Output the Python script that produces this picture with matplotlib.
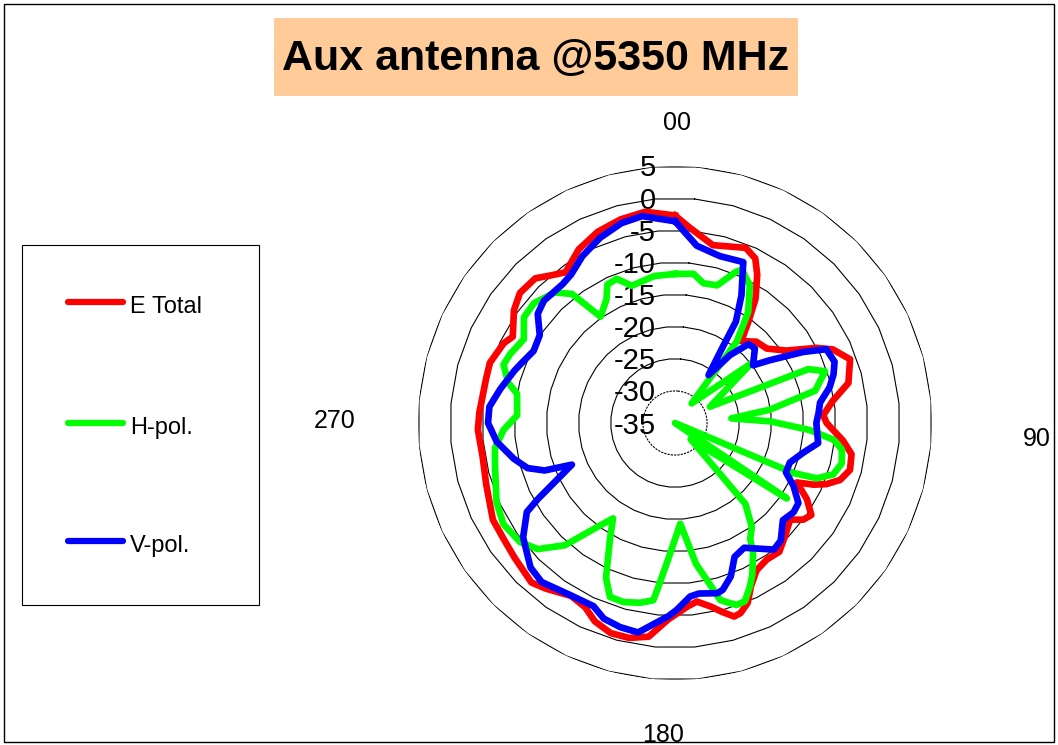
import numpy as np
import matplotlib.pyplot as plt
from matplotlib.patches import Rectangle
from matplotlib.lines import Line2D
from matplotlib.transforms import offset_copy

plt.rcParams['font.family'] = ['Liberation Sans', 'DejaVu Sans']

W, H = 1058, 745

# --- data (angle in degrees clockwise from top, level in dB) ---
ring_levels = [5, 0, -5, -10, -15, -20, -25, -30, -35]
series_names = ['E Total', 'H-pol.', 'V-pol.']

e_ang = [0, 4, 12, 22, 26, 29, 33, 36, 39, 45, 51, 57, 62, 65, 70, 77, 82, 87, 90, 96,
         100, 105, 109, 112, 114, 116, 120, 124, 127, 130, 136, 141, 146, 151, 155, 158,
         161, 163, 166, 169, 173, 176, 182, 187, 192, 197, 202, 206, 211, 218, 222, 230,
         236, 242, 252, 260, 268, 273, 283, 288, 295, 298, 305, 310, 316, 320, 324, 331,
         338, 345, 352]
e_db = [-2.7, -4.4, -6.7, -5.6, -6.5, -8.6, -12.0, -15.6, -18.6, -17.1, -16.6, -14.3,
        -10.1, -7.9, -6.0, -7.3, -10.2, -11.9, -11.4, -8.7, -7.1, -6.8, -7.8, -9.6, -11.4,
        -13.9, -11.3, -9.4, -10.0, -11.6, -10.4, -9.2, -9.4, -8.8, -7.0, -4.8, -3.7, -3.5,
        -4.7, -5.9, -7.0, -6.4, -4.4, -1.5, -0.8, -0.8, -1.7, -3.1, -3.6, -2.3, -1.6, -2.4,
        -2.8, -2.9, -4.1, -4.6, -4.3, -4.5, -4.8, -4.7, -5.6, -6.4, -4.4, -3.5, -3.7, -5.0,
        -6.0, -4.1, -2.9, -2.2, -1.8]

h_ang = [0, 7, 11.5, 17, 22, 23.6, 28.5, 33.4, 37.2, 40.3, 52, 65, 68, 71, 77, 82, 85.3,
         89, 93, 96, 99, 103.6, 108, 111.3, 112.9, 117, 124, 136, 139, 143.5, 147, 149,
         153, 155.4, 158.6, 161.3, 164, 165.7, 167.8, 171.5, 177, 183, 186, 187, 191, 196,
         200.5, 204, 209.4, 213, 217, 222, 227.4, 232.4, 239.5, 246, 256.6, 262, 267.7,
         272.8, 280.5, 283.6, 288.8, 292.8, 299, 305, 310.4, 317.4, 321.4, 325, 331, 334,
         338, 342.5, 352]
h_db = [-11.8, -11.6, -12.8, -12.6, -9.6, -9.0, -10.6, -14.3, -19.1, -31.0, -19.9, -29.0,
        -12.6, -10.3, -12.6, -20.1, -26.2, -20.2, -14.0, -10.2, -8.7, -8.3, -9.1, -11.3,
        -15.0, -35.0, -14.0, -31.5, -18.3, -14.9, -13.5, -11.4, -8.5, -7.0, -5.2, -5.1,
        -6.0, -6.6, -9.3, -12.8, -19.3, -13.6, -9.0, -7.2, -6.5, -6.0, -6.1, -8.6, -14.4,
        -17.3, -14.6, -9.4, -6.0, -4.6, -4.0, -4.6, -6.2, -6.7, -8.3, -10.4, -10.0, -8.3,
        -6.8, -7.2, -8.1, -6.3, -6.2, -7.4, -9.3, -14.8, -13.0, -11.0, -10.8, -12.6, -11.9]

v_ang = [0, 7, 15, 23, 27.5, 31, 32, 35, 39, 43, 47, 53.5, 56.5, 61, 64, 69, 73, 77, 82,
         86, 90, 98, 103, 109, 114, 118, 123, 127, 132, 138, 142, 151, 156, 160, 164, 166,
         172, 175, 179.5, 182, 190, 195, 200, 204, 212, 220, 225, 233, 239, 241, 248, 250,
         253, 257.5, 264, 270, 275, 281, 288, 291, 297, 303, 308.5, 313, 321, 325, 331,
         338, 345, 351]
v_db = [-3.6, -7.2, -8.1, -7.8, -12.6, -16.6, -20.7, -25.9, -21.4, -18.2, -18.0, -19.9,
        -17.3, -12.2, -8.8, -8.4, -9.2, -10.3, -12.2, -12.6, -13.0, -12.5, -14.5, -16.1,
        -16.1, -14.1, -12.1, -11.9, -12.4, -10.4, -10.0, -12.8, -12.2, -9.6, -8.0, -7.7,
        -8.2, -7.9, -5.9, -4.9, -1.9, -2.1, -2.6, -3.8, -3.6, -2.7, -3.2, -5.4, -8.1,
        -10.6, -17.7, -13.4, -11.0, -9.3, -7.1, -5.9, -6.0, -7.3, -8.7, -9.3, -10.3, -9.9,
        -7.7, -7.1, -7.2, -6.8, -5.3, -3.9, -2.8, -2.4]

colors = ['#FF0000', '#00FF00', '#0000FF']


def fx(x):
    return x / W


def fy(y):
    return 1 - y / H


fig = plt.figure(figsize=(W / 100, H / 100), dpi=100)
fig.patch.set_facecolor('white')

# chart frame
fig.patches.append(Rectangle((fx(4), fy(742)), 1050 / W, 738 / H, transform=fig.transFigure,
                             fill=False, ec='black', lw=1.0))

# title box
fig.patches.append(Rectangle((fx(274), fy(96)), 524 / W, 78 / H, transform=fig.transFigure,
                             fc='#FFCC99', ec='none'))
fig.text(fx(536), fy(69.5), 'Aux antenna @5350 MHz', fontsize=31, fontweight='bold',
         ha='center', va='baseline')

# radar (polar) area
cx, cy, R = 675, 423, 257
ax = fig.add_axes([fx(cx - R), fy(cy + R), 2 * R / W, 2 * R / H], projection='polar')
ax.set_theta_zero_location('N')
ax.set_theta_direction(-1)
ax.set_ylim(-35, 5)
ax.grid(False)
ax.set_xticks([])
ax.set_yticks([])
ax.spines['polar'].set_visible(False)
ax.patch.set_visible(False)

ring_t = np.deg2rad(np.arange(5, 366, 10))
for lvl in ring_levels[:-1]:
    ls = (0, (2, 1)) if lvl == -30 else '-'
    ax.plot(ring_t, np.full(ring_t.shape, lvl), color='black', lw=0.8, ls=ls, zorder=1)

lbl_tr = offset_copy(ax.transData, fig=fig, x=-19, y=-10.5, units='dots')
for lvl in ring_levels:
    ax.text(0, lvl, str(lvl), transform=lbl_tr, ha='right', va='baseline', fontsize=21,
            zorder=2)

for ang, db, col in zip([e_ang, h_ang, v_ang], [e_db, h_db, v_db], colors):
    t = np.deg2rad(np.append(ang, ang[0] + 360))
    r = np.append(db, db[0])
    ax.plot(t, r, color=col, lw=4.8, solid_joinstyle='round', zorder=3, clip_on=False)

# category labels
fig.text(fx(677), fy(130), '00', fontsize=18, ha='center', va='baseline')
fig.text(fx(1037), fy(446), '90', fontsize=18, ha='center', va='baseline')
fig.text(fx(663), fy(742), '180', fontsize=18, ha='center', va='baseline')
fig.text(fx(335), fy(428), '270', fontsize=18, ha='center', va='baseline')

# legend
fig.patches.append(Rectangle((fx(22), fy(605)), 237 / W, 360 / H, transform=fig.transFigure,
                             fill=False, ec='black', lw=0.8))
for name, col, ly in zip(series_names, colors, [302, 423, 541]):
    fig.lines.append(Line2D([fx(68), fx(123)], [fy(ly), fy(ly)], transform=fig.transFigure,
                            color=col, lw=4.5, solid_capstyle='round'))
    fig.text(fx(130), fy(ly + 11), name, fontsize=17, ha='left', va='baseline')

fig.savefig('out.png', dpi=100)
